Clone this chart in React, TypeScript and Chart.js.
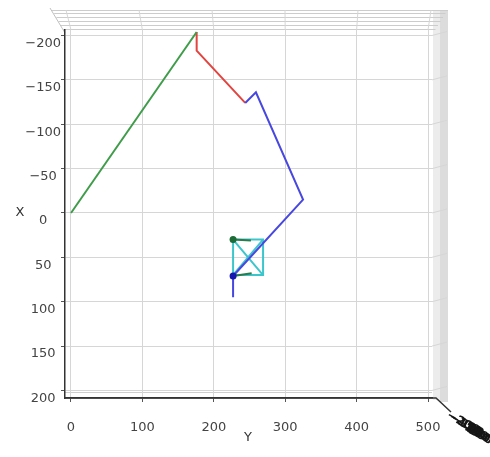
import React, { useEffect, useRef } from "react";
import { Chart, registerables } from "chart.js";

Chart.register(...registerables);

// Tick values for the two visible axes (horizontal = Y, vertical = X)
const yAxisTicks = [0, 100, 200, 300, 400, 500];
const xAxisTicks = [-200, -150, -100, -50, 0, 50, 100, 150, 200];
// Depth-axis labels, squeezed together when seen from straight above
const zAxisTicks = ["−200", "−150", "−100", "−50", "0", "50", "100", "150", "200"];

// Path segments: Y (horizontal) and X (vertical) coordinates
const greenY = [0, 176];
const greenX = [0, -204];
const redY = [176, 176, 244];
const redX = [-204, -183, -124];
const blueY = [244, 259, 325, 227, 227];
const blueX = [-124, -136, -15, 71, 95];
// Square frame with both diagonals
const cyanAY = [227, 227, 269, 269, 227, 269];
const cyanAX = [70, 30, 30, 70, 70, 30];
const cyanBY = [227, 269];
const cyanBX = [30, 70];
const darkTopY = [227, 252];
const darkTopX = [30, 31];
const darkBottomY = [227, 253];
const darkBottomX = [71, 68];
// Marker points
const startDotY = [227];
const startDotX = [30];
const endDotY = [227];
const endDotX = [71];

const zip = (ys: number[], xs: number[]) => ys.map((v, i) => ({ x: v, y: xs[i] }));

const lineSet = (ys: number[], xs: number[], color: string, order: number, width = 2) => ({
  data: zip(ys, xs),
  showLine: true,
  borderColor: color,
  backgroundColor: color,
  borderWidth: width,
  pointRadius: 0,
  tension: 0,
  order,
});

const dotSet = (ys: number[], xs: number[], color: string) => ({
  data: zip(ys, xs),
  showLine: false,
  borderColor: color,
  backgroundColor: color,
  pointRadius: 3.5,
  borderWidth: 0,
  order: 0,
});

const FONT = "'DejaVu Sans', sans-serif";

// Draws the 3D box decorations around the plotting pane
const paneFrame = {
  id: "paneFrame",
  beforeDraw(chart: any) {
    const ctx = chart.ctx as CanvasRenderingContext2D;
    const { left, right, top, bottom } = chart.chartArea;
    ctx.save();
    // right side pane
    ctx.fillStyle = "#ececec";
    ctx.fillRect(right + 1, 10, 15, bottom - 10 + 2);
    ctx.fillStyle = "#dcdcdc";
    ctx.fillRect(right + 8, 10, 8, bottom - 10 + 4);
    // top band of receding lines
    ctx.strokeStyle = "#cccccc";
    ctx.lineWidth = 1;
    [10, 13, 17, 21, 25, 29].forEach((yy, i) => {
      ctx.beginPath();
      ctx.moveTo(52 + i * 2.2, yy + 0.5);
      ctx.lineTo(right + 16 - i * 2.5, yy + 0.5);
      ctx.stroke();
    });
    // top-left receding edge
    ctx.strokeStyle = "#c0c0c0";
    ctx.beginPath();
    ctx.moveTo(50, 8);
    ctx.lineTo(left, top + 3);
    ctx.stroke();
    // pane bottom edge
    ctx.strokeStyle = "#cfcfcf";
    ctx.beginPath();
    ctx.moveTo(left, bottom - 6 + 0.5);
    ctx.lineTo(right, bottom - 6 + 0.5);
    ctx.stroke();
    ctx.restore();
  },
  afterDraw(chart: any) {
    const ctx = chart.ctx as CanvasRenderingContext2D;
    const { left, right, bottom } = chart.chartArea;
    const xs = chart.scales.x;
    const ys = chart.scales.y;
    ctx.save();
    // grid lines bending into the top band and the right pane
    ctx.strokeStyle = "#d6d6d6";
    ctx.lineWidth = 1;
    yAxisTicks.forEach((v) => {
      const px = xs.getPixelForValue(v);
      ctx.beginPath();
      ctx.moveTo(px, chart.chartArea.top);
      ctx.lineTo(px - 5 + (v / 500) * 8, 10);
      ctx.stroke();
    });
    xAxisTicks.forEach((v) => {
      const py = ys.getPixelForValue(v);
      ctx.beginPath();
      ctx.moveTo(right, py);
      ctx.lineTo(right + 15, py - 4);
      ctx.stroke();
    });
    // bottom axis continuing into depth
    ctx.strokeStyle = "#333";
    ctx.lineWidth = 1.5;
    ctx.beginPath();
    ctx.moveTo(left, bottom);
    ctx.lineTo(right + 4, bottom);
    ctx.lineTo(right + 19, bottom + 14);
    ctx.stroke();
    // axis titles
    ctx.fillStyle = "#333";
    ctx.font = `13px ${FONT}`;
    ctx.textAlign = "center";
    ctx.textBaseline = "middle";
    ctx.fillText("X", 20, 213);
    ctx.fillText("Y", 248, 438);
    // depth-axis labels piled on top of each other
    ctx.fillStyle = "#161616";
    ctx.font = `bold 12px ${FONT}`;
    zAxisTicks.forEach((t, i) => {
      ctx.save();
      ctx.translate(463 + i * 2.2, 423 + i * 1.6);
      ctx.rotate(0.5);
      ctx.fillText(t, 0, 0);
      ctx.restore();
    });
    ctx.restore();
  },
};

export default function App() {
  const canvasRef = useRef<HTMLCanvasElement | null>(null);

  useEffect(() => {
    if (!canvasRef.current) return;
    const tickFont = { family: FONT, size: 13 };
    const fmt = (v: any) => String(v).replace("-", "\u2212");
    const chart = new Chart(canvasRef.current, {
      type: "scatter",
      data: {
        datasets: [
          lineSet(greenY, greenX, "#3f9c4a", 5),
          lineSet(redY, redX, "#e24440", 5),
          lineSet(cyanAY, cyanAX, "#3cc6cc", 6),
          lineSet(cyanBY, cyanBX, "#3cc6cc", 6),
          lineSet(darkTopY, darkTopX, "#2d7a4a", 4),
          lineSet(darkBottomY, darkBottomX, "#2d7a4a", 4),
          lineSet(blueY, blueX, "#4848e0", 2),
          dotSet(startDotY, startDotX, "#1d6b36"),
          dotSet(endDotY, endDotX, "#1616b0"),
        ] as any,
      },
      options: {
        responsive: false,
        animation: false,
        devicePixelRatio: 1,
        layout: { padding: { left: 0, top: 30, right: 58, bottom: 0 } },
        plugins: {
          legend: { display: false },
          tooltip: { enabled: false },
        },
        scales: {
          x: {
            type: "linear",
            min: -8.4,
            max: 505.6,
            afterBuildTicks: (s: any) => {
              s.ticks = yAxisTicks.map((v) => ({ value: v }));
            },
            afterFit: (s: any) => {
              s.height = 59;
            },
            grid: { color: "#d6d6d6", lineWidth: 1, tickLength: 4, tickColor: "#555" },
            border: { display: true, color: "#333", width: 1.5 },
            ticks: {
              font: tickFont,
              color: "#444",
              padding: 18,
              maxRotation: 0,
              autoSkip: false,
              callback: fmt,
            },
          },
          y: {
            type: "linear",
            reverse: true,
            min: -206.2,
            max: 208.5,
            afterBuildTicks: (s: any) => {
              s.ticks = xAxisTicks.map((v) => ({ value: v }));
            },
            afterFit: (s: any) => {
              s.width = 65;
            },
            grid: { color: "#d6d6d6", lineWidth: 1, tickLength: 4, tickColor: "#555" },
            border: { display: true, color: "#333", width: 1.5 },
            ticks: {
              font: tickFont,
              color: "#444",
              padding: 0,
              crossAlign: "center",
              labelOffset: 8,
              autoSkip: false,
              callback: fmt,
            },
          },
        },
      } as any,
      plugins: [paneFrame],
    });
    return () => chart.destroy();
  }, []);

  return (
    <div style={{ position: "fixed", left: 0, top: 0, width: 490, height: 457, background: "#fff" }}>
      <canvas ref={canvasRef} width={490} height={457} />
    </div>
  );
}
